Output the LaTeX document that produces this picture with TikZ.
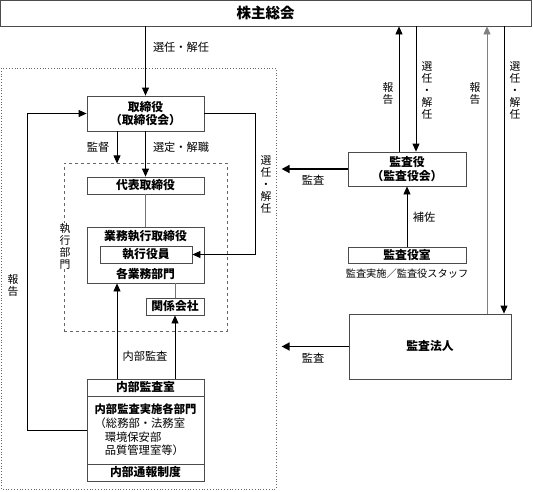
\documentclass[tikz,border=0pt]{standalone}
\usepackage{fontspec}
\setmainfont{Noto Sans CJK JP}
\usetikzlibrary{arrows.meta}
\begin{document}
\begin{tikzpicture}[x=1pt,y=-1pt,
  box/.style={draw=black!70, line width=0.8pt, inner sep=0pt, align=center,
    font=\fontsize{11.8}{13.5}\selectfont\bfseries},
  btext/.style={inner sep=0pt, font=\fontsize{11.8}{13.5}\selectfont\bfseries},
  lbl/.style={inner sep=0pt, font=\fontsize{11.2}{12}\selectfont},
  vlbl/.style={inner sep=0pt, align=center, font=\fontsize{10.8}{12}\selectfont},
  arr/.style={-{Triangle[length=8pt,width=7pt]}, line width=0.8pt},
  thickarr/.style={-{Triangle[length=8pt,width=8pt]}, line width=1.6pt},
  gline/.style={draw=black!55, line width=0.8pt},
  garr/.style={-{Triangle[length=8pt,width=7pt]}, line width=0.8pt, draw=black!50}
]
\useasboundingbox (0,0) rectangle (533,491);

% frames
\draw[black!60, dotted, line width=0.8pt] (1,68) rectangle (276,489);
\node[draw=black!60, dashed, line width=0.6pt, minimum width=163pt, minimum height=168pt, inner sep=0pt] (exec) at (145.5,247) {};

% top
\node[box, minimum width=531pt, minimum height=26pt, font=\fontsize{14.5}{16}\selectfont\bfseries] (top) at (265.5,13) {株主総会};

% left side boxes
\node[box, minimum width=117pt, minimum height=35pt] (tori) at (145.5,113.5) {取締役\\（取締役会）};
\node[box, minimum width=117pt, minimum height=17pt] (daihyo) at (145.5,185.5) {代表取締役};
\node[box, minimum width=117pt, minimum height=56pt] (gyomu) at (145.5,255) {};
\node[btext] (g1) at (145.5,236.5) {業務執行取締役};
\node[box, minimum width=92pt, minimum height=17pt] (shikko) at (146,254.5) {執行役員};
\node[btext] (g2) at (145.5,273.5) {各業務部門};
\node[box, minimum width=58pt, minimum height=17pt] (kankei) at (175,306.5) {関係会社};

\node[box, minimum width=117pt, minimum height=17pt] (naibuA) at (145.5,387.5) {内部監査室};
\node[box, minimum width=117pt, minimum height=68pt, align=left, font=\fontsize{11.3}{13.7}\selectfont] (naibuB) at (145.5,430)
  {\textbf{内部監査実施各部門}\\（総務部・法務室\\\hspace*{0.9em}環境保安部\\\hspace*{0.9em}品質管理室等）};
\node[box, minimum width=117pt, minimum height=17pt] (naibuC) at (145.5,472.5) {内部通報制度};

% right side boxes
\node[box, minimum width=118pt, minimum height=34pt] (kansayaku) at (407,169) {監査役\\（監査役会）};
\node[box, minimum width=118pt, minimum height=16pt] (kansashitsu) at (407,255) {監査役室};
\node[lbl, font=\fontsize{10.2}{12}\selectfont] (staff) at (407,274) {監査実施／監査役スタッフ};
\node[box, minimum width=162pt, minimum height=65pt] (hojin) at (430,346.5) {監査法人};

% connectors (left)
\draw[arr] (top.south -| tori.north) -- (tori.north);
\node[lbl] (l1) at (181,47) {選任・解任};
\draw[arr] (naibuB.west) -- ++(-59,0) |- (tori.west);
\node[vlbl, fill=white] (l2) at (13,285) {報\\告};
\draw[arr] (tori.east) -- ++(51,0) |- (shikko.east);
\node[vlbl] (l3) at (266,185) {選\\任\\・\\解\\任};
\draw[arr] ([xshift=-28.5]tori.south) -- ++(0,32);
\node[lbl] (l4) at (98,147) {監督};
\draw[arr] (tori.south) -- (daihyo.north);
\node[lbl] (l5) at (181,147) {選定・解職};
\draw[gline] (daihyo.south) -- (gyomu.north);
\draw[gline] (gyomu.south -| kankei.north) -- (kankei.north);
\node[vlbl, fill=white] (l6) at (65,246) {執\\行\\部\\門};
\draw[arr] ([xshift=-28.5]naibuA.north) -- ([xshift=-28.5]gyomu.south);
\draw[arr] (naibuA.north -| kankei.south) -- (kankei.south);
\node[lbl] (l7) at (145,356) {内部監査};

% connectors (right)
\draw[thickarr] (kansayaku.west) -- ++(-66,0);
\node[lbl] (l8) at (313,180) {監査};
\draw[thickarr] (hojin.west) -- ++(-67,0);
\node[lbl] (l9) at (313,358) {監査};
\draw[arr] (kansashitsu.north) -- (kansayaku.south);
\node[lbl] (l10) at (424,217) {補佐};

\coordinate (ka1) at ([xshift=-8]kansayaku.north);
\coordinate (ka2) at ([xshift=9]kansayaku.north);
\draw[arr] (ka1) -- (ka1 |- top.south);
\draw[arr] (ka2 |- top.south) -- (ka2);
\node[vlbl] (l11) at (388,93) {報\\告};
\node[vlbl] (l12) at (427,91) {選\\任\\・\\解\\任};

\coordinate (ho1) at ([xshift=57]hojin.north);
\coordinate (ho2) at ([xshift=74]hojin.north);
\draw[garr] (ho1) -- (ho1 |- top.south);
\draw[arr] (ho2 |- top.south) -- (ho2);
\node[vlbl] (l13) at (475,93) {報\\告};
\node[vlbl] (l14) at (515,91) {選\\任\\・\\解\\任};
\end{tikzpicture}
\end{document}
